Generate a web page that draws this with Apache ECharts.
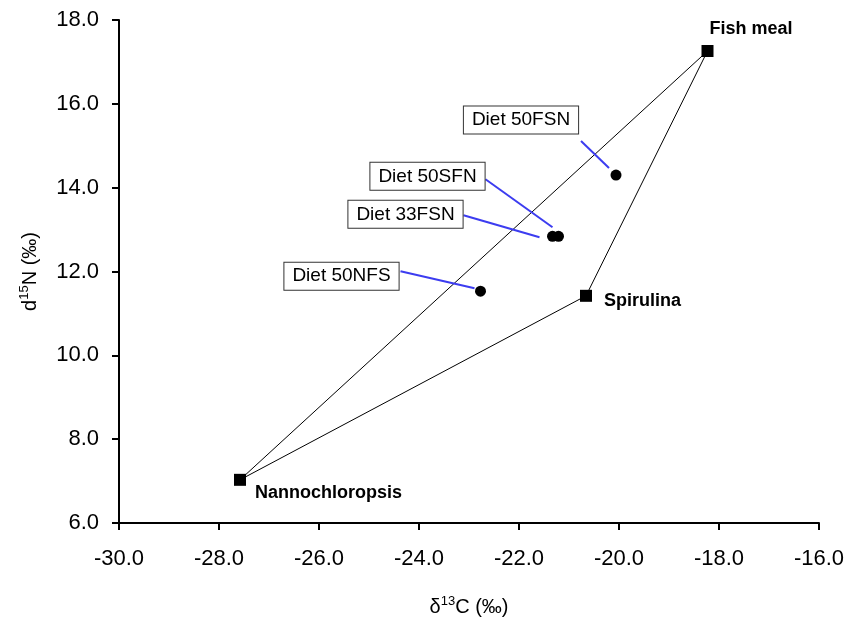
<!DOCTYPE html>
<html>
<head>
<meta charset="utf-8">
<title>d15N vs d13C</title>
<script src="https://cdn.jsdelivr.net/npm/echarts@6/dist/echarts.min.js"></script>
<style>
  html, body { margin: 0; padding: 0; background: #fff; }
  #chart { width: 856px; height: 619px; }
</style>
</head>
<body>
<div id="chart"></div>
<script>
// source ingredients (corners of the mixing polygon)
var sourceNames = ["Fish meal", "Spirulina", "Nannochloropsis"];
var sourceC = [-18.23, -20.66, -27.58];
var sourceN = [17.26, 11.42, 7.03];

// diets
var dietNames = ["Diet 50FSN", "Diet 50SFN", "Diet 33FSN", "Diet 50NFS"];
var dietC = [-20.06, -21.21, -21.33, -22.77];
var dietN = [14.30, 12.84, 12.84, 11.53];

// polygon order: fish meal -> nannochloropsis -> spirulina -> fish meal
var polygonOrder = [0, 2, 1, 0];

// label placement (pixels, relative to the point)
var sourceLabelOffset = [[2, -22], [18, 5], [15, 13]];
var dietBoxOffset = [[-95, -55], [-131, -60], [-147, -22], [-139, -15]];
var dietLeader = [
  [-35, -34, -7, -7],
  [-73, -57, -6, -9],
  [-89, -21, -13, 1],
  [-80, -20, -6, -3]
];

var font = "'Liberation Sans', Arial, sans-serif";

var chart = echarts.init(document.getElementById("chart"));

var option = {
  animation: false,
  backgroundColor: "#fff",
  grid: { left: 119, right: 37, top: 20, bottom: 96, outerBoundsMode: "none" },
  xAxis: {
    type: "value",
    min: -30,
    max: -16,
    interval: 2,
    name: "{a|δ}{s|13}{a|C (‰)}",
    nameLocation: "middle",
    nameGap: 72,
    nameTextStyle: {
      rich: {
        a: { fontSize: 20, fontFamily: font, color: "#000", lineHeight: 24 },
        s: { fontSize: 13, fontFamily: font, color: "#000", verticalAlign: "top", lineHeight: 14 }
      }
    },
    axisLine: { onZero: false, lineStyle: { color: "#000", width: 2 } },
    axisTick: { inside: false, length: 7, lineStyle: { color: "#000", width: 2 } },
    axisLabel: {
      margin: 25,
      fontSize: 22,
      fontFamily: font,
      color: "#000",
      formatter: function (v) { return v.toFixed(1); }
    },
    splitLine: { show: false }
  },
  yAxis: {
    type: "value",
    min: 6,
    max: 18,
    interval: 2,
    name: "{a|d}{s|15}{a|N (‰)}",
    nameLocation: "middle",
    nameGap: 77,
    nameTextStyle: {
      rich: {
        a: { fontSize: 20, fontFamily: font, color: "#000", lineHeight: 24 },
        s: { fontSize: 13, fontFamily: font, color: "#000", verticalAlign: "top", lineHeight: 14 }
      }
    },
    axisLine: { onZero: false, lineStyle: { color: "#000", width: 2 } },
    axisTick: { inside: false, length: 7, lineStyle: { color: "#000", width: 2 } },
    axisLabel: {
      margin: 20,
      fontSize: 22,
      fontFamily: font,
      color: "#000",
      formatter: function (v) { return v.toFixed(1); }
    },
    splitLine: { show: false }
  },
  series: [
    {
      type: "line",
      data: polygonOrder.map(function (i) { return [sourceC[i], sourceN[i]]; }),
      symbol: "none",
      lineStyle: { color: "#000", width: 1 },
      z: 1
    },
    {
      type: "scatter",
      data: sourceC.map(function (c, i) { return [c, sourceN[i]]; }),
      symbol: "rect",
      symbolSize: 12,
      itemStyle: { color: "#000", opacity: 1 },
      label: {
        show: true,
        position: "inside",
        align: "left",
        formatter: function (p) { return sourceNames[p.dataIndex]; },
        fontFamily: font,
        fontSize: 18,
        fontWeight: "bold",
        color: "#000",
        opacity: 1
      },
      labelLayout: function (p) {
        var o = sourceLabelOffset[p.dataIndex];
        return { dx: o[0], dy: o[1] };
      },
      z: 3
    },
    {
      type: "scatter",
      data: dietC.map(function (c, i) { return [c, dietN[i]]; }),
      symbol: "circle",
      symbolSize: 11,
      itemStyle: { color: "#000", opacity: 1 },
      z: 3
    },
    {
      type: "custom",
      data: dietC.map(function (c, i) { return [c, dietN[i]]; }),
      renderItem: function (params, api) {
        var i = params.dataIndex;
        var p = api.coord([api.value(0), api.value(1)]);
        var b = dietBoxOffset[i];
        var l = dietLeader[i];
        return {
          type: "group",
          children: [
            {
              type: "line",
              shape: { x1: p[0] + l[0], y1: p[1] + l[1], x2: p[0] + l[2], y2: p[1] + l[3] },
              style: { stroke: "#3c3cf0", lineWidth: 2 }
            },
            {
              type: "text",
              x: p[0] + b[0],
              y: p[1] + b[1],
              style: {
                text: dietNames[i],
                font: "19px " + font,
                fill: "#000",
                align: "center",
                verticalAlign: "middle",
                backgroundColor: "#fff",
                borderColor: "#333",
                borderWidth: 1,
                padding: [4, 8]
              }
            }
          ]
        };
      },
      z: 4
    }
  ]
};

chart.setOption(option);
</script>
</body>
</html>
